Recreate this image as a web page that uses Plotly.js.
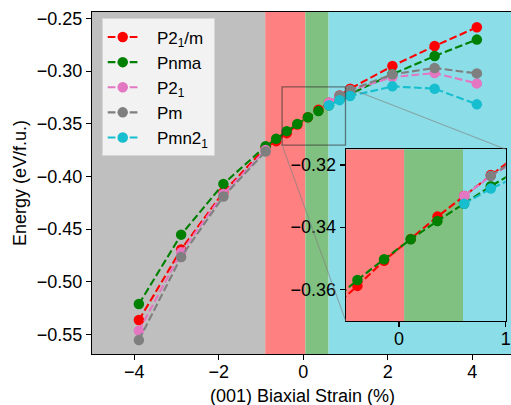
<!DOCTYPE html>
<html><head><meta charset="utf-8">
<script src="https://cdn.plot.ly/plotly-3.0.1.min.js"></script>
<style>html,body{margin:0;padding:0;overflow:hidden;background:#fff}</style>
</head><body><div id="chart" style="width:511px;height:405px"></div>
<script>
// Data
const strain = [-3.89, -2.89, -1.89, -0.89, -0.64, -0.39, -0.14, 0.11, 0.36, 0.61, 0.86, 1.11, 2.11, 3.11, 4.11];
const P21m  = [-0.5364, -0.4693, -0.4150, -0.3725, -0.3665, -0.3589, -0.3508, -0.3438, -0.3366, -0.3300, -0.3232, -0.3167, -0.2952, -0.2762, -0.2584];
const Pnma  = [-0.5212, -0.4553, -0.4071, -0.3713, -0.3643, -0.3570, -0.3503, -0.3439, -0.3380, -0.3325, -0.3268, -0.3218, -0.3030, -0.2857, -0.2701];
const P21   = [-0.5466, -0.4721, -0.4166, -0.3750, null, null, null, null, null, -0.3300, -0.3235, -0.3185, -0.3057, -0.3019, -0.3117];
const Pm    = [-0.5554, -0.4765, -0.4191, -0.3763, null, null, null, null, null, null, -0.3235, -0.3180, -0.3031, -0.2971, -0.3022];
const Pmn21 = [null, null, null, null, null, null, null, null, null, -0.3325, -0.3276, -0.3237, -0.3145, -0.3167, -0.3316];
const seriesNames = ['P2<sub>1</sub>/m', 'Pnma', 'P2<sub>1</sub>', 'Pm', 'Pmn2<sub>1</sub>'];
const seriesValues = [P21m, Pnma, P21, Pm, Pmn21];
const seriesColors = ['#ff0000', '#008000', '#e377c2', '#7f7f7f', '#17becf'];
// phase region boundaries (strain %)
const regionEdges = [-0.9, 0.05, 0.6];
const regionColors = ['#bfbfbf', '#ff8080', '#80c080', '#8bdee7'];
const xTicks = [-4, -2, 0, 2, 4];
const yTicks = [-0.55, -0.50, -0.45, -0.40, -0.35, -0.30, -0.25];
const insetXTicks = [0, 1];
const insetYTicks = [-0.36, -0.34, -0.32];

// Layout values
const xRange = [-5.0, 4.918];
const yRange = [-0.5686, -0.2439];
const insetXRange = [-0.5, 1.0];
const insetYRange = [-0.3702, -0.31495];
const insetXDomain = [0.6055, 0.9874];
const insetYDomain = [0.0965, 0.5985];
const FONT = 'Liberation Sans, Arial, sans-serif';
const PAD = '\u00a0\u00a0\u00a0';

const traces = [];
seriesValues.forEach((vals, i) => {
  traces.push({
    x: strain, y: vals, mode: 'lines+markers', connectgaps: false,
    line: {color: seriesColors[i], width: 2.1, dash: '7.7px,3.3px'},
    marker: {size: 10.5, color: seriesColors[i]},
    name: PAD + seriesNames[i], xaxis: 'x', yaxis: 'y'
  });
});
seriesValues.forEach((vals, i) => {
  traces.push({
    x: strain, y: vals, mode: 'lines+markers', connectgaps: false, showlegend: false,
    line: {color: seriesColors[i], width: 2.1, dash: '7.7px,3.3px'},
    marker: {size: 10.5, color: seriesColors[i]},
    xaxis: 'x2', yaxis: 'y2', name: seriesNames[i]
  });
});

const shapes = [];
const mainBounds = [xRange[0]].concat(regionEdges, [xRange[1]]);
for (let i = 0; i < regionColors.length; i++) {
  shapes.push({type: 'rect', xref: 'x', yref: 'y', layer: 'below',
    x0: mainBounds[i], x1: mainBounds[i + 1], y0: yRange[0], y1: yRange[1],
    fillcolor: regionColors[i], line: {width: 0}});
}
for (let i = 0; i < regionColors.length; i++) {
  const a = Math.max(mainBounds[i], insetXRange[0]);
  const b = Math.min(mainBounds[i + 1], insetXRange[1]);
  if (b <= a) continue;
  shapes.push({type: 'rect', xref: 'x2', yref: 'y2', layer: 'below',
    x0: a, x1: b, y0: insetYRange[0], y1: insetYRange[1],
    fillcolor: regionColors[i], line: {width: 0}});
}
// zoom indicator rectangle
shapes.push({type: 'rect', xref: 'x', yref: 'y', layer: 'above',
  x0: insetXRange[0], x1: insetXRange[1], y0: insetYRange[0], y1: insetYRange[1],
  fillcolor: 'rgba(0,0,0,0)', line: {color: 'rgba(50,50,50,0.6)', width: 1.3}});
// connector lines (paper coords)
const px = v => (v - xRange[0]) / (xRange[1] - xRange[0]);
const py = v => (v - yRange[0]) / (yRange[1] - yRange[0]);
shapes.push({type: 'line', xref: 'paper', yref: 'paper', layer: 'above',
  x0: px(insetXRange[1]), y0: py(insetYRange[1]), x1: insetXDomain[1], y1: insetYDomain[1],
  line: {color: 'rgba(128,128,128,0.6)', width: 1.1}});
shapes.push({type: 'line', xref: 'paper', yref: 'paper', layer: 'above',
  x0: px(insetXRange[0]), y0: py(insetYRange[0]), x1: insetXDomain[0], y1: insetYDomain[0],
  line: {color: 'rgba(128,128,128,0.6)', width: 1.1}});

const axisCommon = {
  ticks: 'outside', ticklen: 5, tickwidth: 1.1, tickcolor: '#000',
  showline: true, linecolor: '#000', linewidth: 1.1,
  showgrid: false, zeroline: false, automargin: false,
  tickfont: {family: FONT, size: 18, color: '#000'}
};

const layout = {
  width: 511, height: 405,
  margin: {l: 92, r: 0, t: 12, b: 51},
  paper_bgcolor: '#ffffff', plot_bgcolor: 'rgba(0,0,0,0)',
  font: {family: FONT, size: 18, color: '#000'},
  xaxis: Object.assign({}, axisCommon, {range: xRange, domain: [0, 1], anchor: 'y', tickvals: xTicks, mirror: true, ticklabelstandoff: -4}),
  yaxis: Object.assign({}, axisCommon, {range: yRange, domain: [0, 1], anchor: 'x', tickvals: yTicks, tickformat: '.2f', mirror: false}),
  xaxis2: Object.assign({}, axisCommon, {range: insetXRange, domain: insetXDomain, anchor: 'y2', tickvals: insetXTicks, mirror: true, ticklabelstandoff: -4}),
  yaxis2: Object.assign({}, axisCommon, {range: insetYRange, domain: insetYDomain, anchor: 'x2', tickvals: insetYTicks, tickformat: '.2f', mirror: true}),
  showlegend: true,
  legend: {x: 0.0232, y: 0.981, xanchor: 'left', yanchor: 'top',
    bgcolor: '#f2f2f2', bordercolor: '#d6d6d6', borderwidth: 1,
    font: {family: FONT, size: 17, color: '#000'}},
  shapes: shapes,
  annotations: [
    {text: '(001) Biaxial Strain (%)', xref: 'paper', yref: 'paper', x: 0.503, y: -0.1228,
     xanchor: 'center', yanchor: 'middle', showarrow: false, font: {family: FONT, size: 18, color: '#000'}},
    {text: 'Energy (eV/f.u.)', xref: 'paper', yref: 'paper', x: -0.1718, y: 0.5, textangle: -90,
     xanchor: 'center', yanchor: 'middle', showarrow: false, font: {family: FONT, size: 18, color: '#000'}}
  ]
};

Plotly.newPlot('chart', traces, layout, {displayModeBar: false, staticPlot: true});
</script></body></html>
